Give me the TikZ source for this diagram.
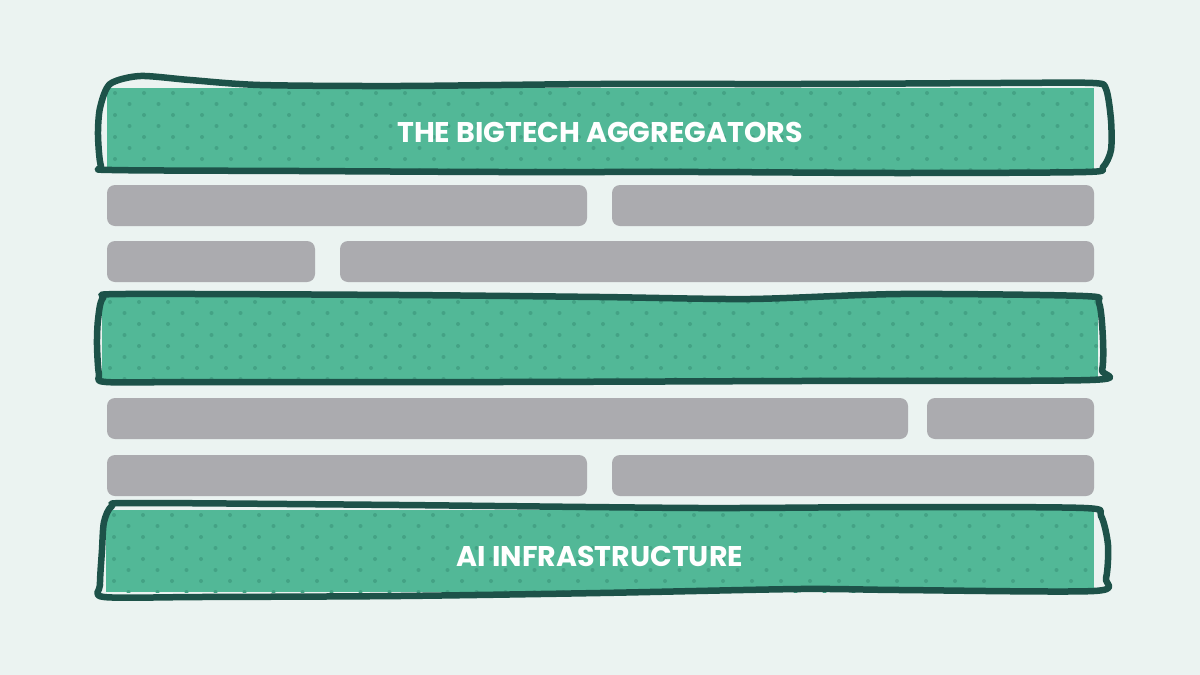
\documentclass[tikz,border=0pt]{standalone}
\usepackage{fontspec}
\newfontfamily\lblfont{Poppins}
\definecolor{bgc}{HTML}{EBF3F1}
\definecolor{bandfill}{HTML}{52B897}
\definecolor{banddot}{HTML}{44A285}
\definecolor{bandline}{HTML}{1D5249}
\definecolor{barc}{HTML}{ABABAF}
\tikzset{
  barbox/.style={fill=barc, rounded corners=8pt, draw=none},
  bandline/.style={draw=bandline, line width=6.5pt, line join=round},
  bandtext/.style={text=white, font=\lblfont\bfseries\fontsize{28.5}{32}\selectfont},
}
\begin{document}
\begin{tikzpicture}[x=1pt,y=-1pt]
\fill[bgc] (0,0) rectangle (1200,675);
\useasboundingbox (0,0) rectangle (1200,675);

% ---- band fills with dots
\foreach \xa/\ya/\xb/\yb in {107/88/1094/170, 102/297/1098/380, 106/510/1094/592}{
  \begin{scope}
    \clip (\xa,\ya) rectangle (\xb,\yb);
    \fill[bandfill] (\xa,\ya) rectangle (\xb,\yb);
    \foreach \r in {0,...,8}{
      \pgfmathsetmacro{\yy}{\ya+5+11*\r}
      \pgfmathsetmacro{\off}{mod(\r,2)*14.5}
      \foreach \c in {0,...,36}{
        \fill[banddot] ({\xa+8+\off+29*\c},\yy) circle (2);
      }
    }
  \end{scope}
}

% ---- band outlines (hand drawn)
\draw[bandline] plot[smooth cycle, tension=0.45] coordinates {
  (100,108) (110,84) (140,76) (190,80) (260,85) (400,86) (600,84) (800,84)
  (1000,83) (1093,83) (1106,89) (1111,120) (1111,150) (1103,167) (1086,172)
  (900,173) (700,172) (500,172) (300,171) (112,170) (101,166) (98,135)};
\draw[bandline] plot[smooth cycle, tension=0.45] coordinates {
  (98,320) (103,298) (125,294) (400,295) (600,297) (750,299) (900,294)
  (1083,296) (1099,303) (1103,340) (1102,370) (1090,380) (800,381)
  (500,382) (200,382) (106,382) (99,374) (97,345)};
\draw[bandline] plot[smooth cycle, tension=0.45] coordinates {
  (104,522) (112,506) (135,503) (400,505) (700,508) (900,507) (1084,508)
  (1101,516) (1108,545) (1106,578) (1094,591) (900,590) (800,589)
  (600,593) (400,596) (200,597) (104,597) (100,585) (102,550)};

% ---- band labels
\node[bandtext] (top) at (600,132) {THE BIGTECH AGGREGATORS};
\node[bandtext] (bot) at (600,556) {AI INFRASTRUCTURE};

% ---- gray bars
\fill[barbox] (107,185) rectangle (587,226);
\fill[barbox] (612,185) rectangle (1094,226);
\fill[barbox] (107,241) rectangle (315,282);
\fill[barbox] (340,241) rectangle (1094,282);
\fill[barbox] (107,398) rectangle (908,439);
\fill[barbox] (927,398) rectangle (1094,439);
\fill[barbox] (107,455) rectangle (587,496);
\fill[barbox] (612,455) rectangle (1094,496);
\end{tikzpicture}
\end{document}
